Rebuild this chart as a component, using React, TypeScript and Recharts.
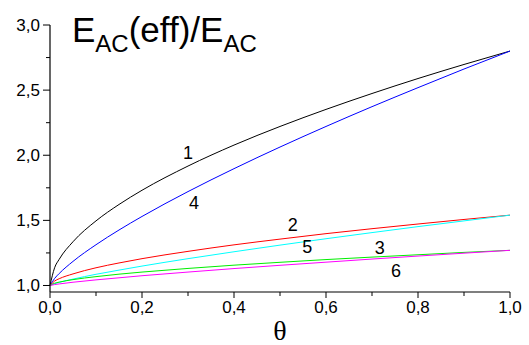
import React from 'react';
import { LineChart, Line, XAxis, YAxis, ReferenceDot, Label } from 'recharts';

const theta = [0, 0.01, 0.02, 0.05, 0.1, 0.15, 0.2, 0.3, 0.4, 0.5, 0.6, 0.7, 0.8, 0.9, 1.0];
const curve1 = [1.0, 1.136, 1.201, 1.336, 1.496, 1.622, 1.731, 1.917, 2.078, 2.221, 2.352, 2.474, 2.589, 2.697, 2.8];
const curve4 = [1.0, 1.054, 1.092, 1.185, 1.313, 1.426, 1.53, 1.721, 1.897, 2.063, 2.221, 2.373, 2.519, 2.662, 2.8];
const curve2 = [1.0, 1.034, 1.052, 1.089, 1.136, 1.173, 1.206, 1.262, 1.312, 1.356, 1.398, 1.436, 1.472, 1.507, 1.54];
const curve5 = [1.0, 1.014, 1.024, 1.049, 1.086, 1.118, 1.149, 1.206, 1.259, 1.31, 1.359, 1.406, 1.452, 1.496, 1.54];
const curve3 = [1.0, 1.017, 1.026, 1.045, 1.068, 1.087, 1.103, 1.131, 1.156, 1.178, 1.199, 1.218, 1.236, 1.254, 1.27];
const curve6 = [1.0, 1.007, 1.012, 1.025, 1.043, 1.059, 1.075, 1.103, 1.13, 1.155, 1.179, 1.203, 1.226, 1.248, 1.27];

const xTicks = [0, 0.1, 0.2, 0.3, 0.4, 0.5, 0.6, 0.7, 0.8, 0.9, 1.0];
const xMajor = [0, 0.2, 0.4, 0.6, 0.8, 1.0];
const yTicks = [1.0, 1.25, 1.5, 1.75, 2.0, 2.25, 2.5, 2.75, 3.0];
const yMajor = [1.0, 1.5, 2.0, 2.5, 3.0];

const curveLabels = [
  { name: '1', x: 0.3, y: 2.017 },
  { name: '4', x: 0.313, y: 1.633 },
  { name: '2', x: 0.528, y: 1.464 },
  { name: '5', x: 0.559, y: 1.296 },
  { name: '3', x: 0.717, y: 1.288 },
  { name: '6', x: 0.752, y: 1.111 },
];

const data = theta.map((t, i) => ({
  t,
  c1: curve1[i],
  c2: curve2[i],
  c3: curve3[i],
  c4: curve4[i],
  c5: curve5[i],
  c6: curve6[i],
}));

const FONT = 'Liberation Sans, Arial, sans-serif';
const fmt = (v: number) => v.toFixed(1).replace('.', ',');

const XTick = (props: any) => {
  const { x, y, payload } = props;
  const major = xMajor.some((m) => Math.abs(m - payload.value) < 1e-6);
  return (
    <g>
      <line x1={x} x2={x} y1={y} y2={y + (major ? 6 : 4)} stroke="#000" strokeWidth={1} />
      {major && (
        <text x={x} y={y + 21} textAnchor="middle" fontSize={17} fontFamily={FONT} fill="#000">
          {fmt(payload.value)}
        </text>
      )}
    </g>
  );
};

const YTick = (props: any) => {
  const { x, y, payload } = props;
  const major = yMajor.some((m) => Math.abs(m - payload.value) < 1e-6);
  return (
    <g>
      <line x1={x} x2={x - (major ? 7 : 4)} y1={y} y2={y} stroke="#000" strokeWidth={1} />
      {major && (
        <text x={x - 10} y={y + 6} textAnchor="end" fontSize={17} fontFamily={FONT} fill="#000">
          {fmt(payload.value)}
        </text>
      )}
    </g>
  );
};

const series = [
  { key: 'c1', color: '#000000' },
  { key: 'c4', color: '#0000ff' },
  { key: 'c2', color: '#ff0000' },
  { key: 'c5', color: '#00ffff' },
  { key: 'c3', color: '#00ee00' },
  { key: 'c6', color: '#ff00ff' },
];

export default function App() {
  return (
    <div style={{ position: 'absolute', left: 0, top: 0, width: 529, height: 345, background: '#fff' }}>
      <LineChart width={529} height={345} data={data} margin={{ top: 25, right: 19, left: 0, bottom: 0 }}>
        <XAxis
          dataKey="t"
          type="number"
          domain={[0, 1]}
          ticks={xTicks}
          tickSize={0}
          tickMargin={0}
          tick={<XTick />}
          height={53}
          axisLine={{ stroke: '#000', strokeWidth: 1.2 }}
          interval={0}
        >
          <Label
            value="θ"
            position="insideBottom"
            offset={5}
            style={{ fontFamily: 'Liberation Serif, Times New Roman, serif', fontSize: 28, fill: '#000' }}
          />
        </XAxis>
        <YAxis
          type="number"
          domain={[0.95, 3.0]}
          ticks={yTicks}
          tickSize={0}
          tickMargin={0}
          tick={<YTick />}
          width={50}
          axisLine={{ stroke: '#000', strokeWidth: 1.2 }}
          interval={0}
          allowDataOverflow
        />
        {series.map((s) => (
          <Line
            key={s.key}
            type="monotone"
            dataKey={s.key}
            stroke={s.color}
            strokeWidth={1}
            dot={false}
            isAnimationActive={false}
          />
        ))}
        {curveLabels.map((l) => (
          <ReferenceDot
            key={l.name}
            x={l.x}
            y={l.y}
            r={0}
            fill="none"
            stroke="none"
            label={{ value: l.name, position: 'center', fontSize: 18, fontFamily: FONT, fill: '#000' }}
          />
        ))}
        <text x={72} y={42} fontFamily={FONT} fontSize={35} fill="#000">
          <tspan>E</tspan>
          <tspan fontSize={24} dy={10}>AC</tspan>
          <tspan dy={-10}>(eff)/E</tspan>
          <tspan fontSize={24} dy={10}>AC</tspan>
        </text>
      </LineChart>
    </div>
  );
}
